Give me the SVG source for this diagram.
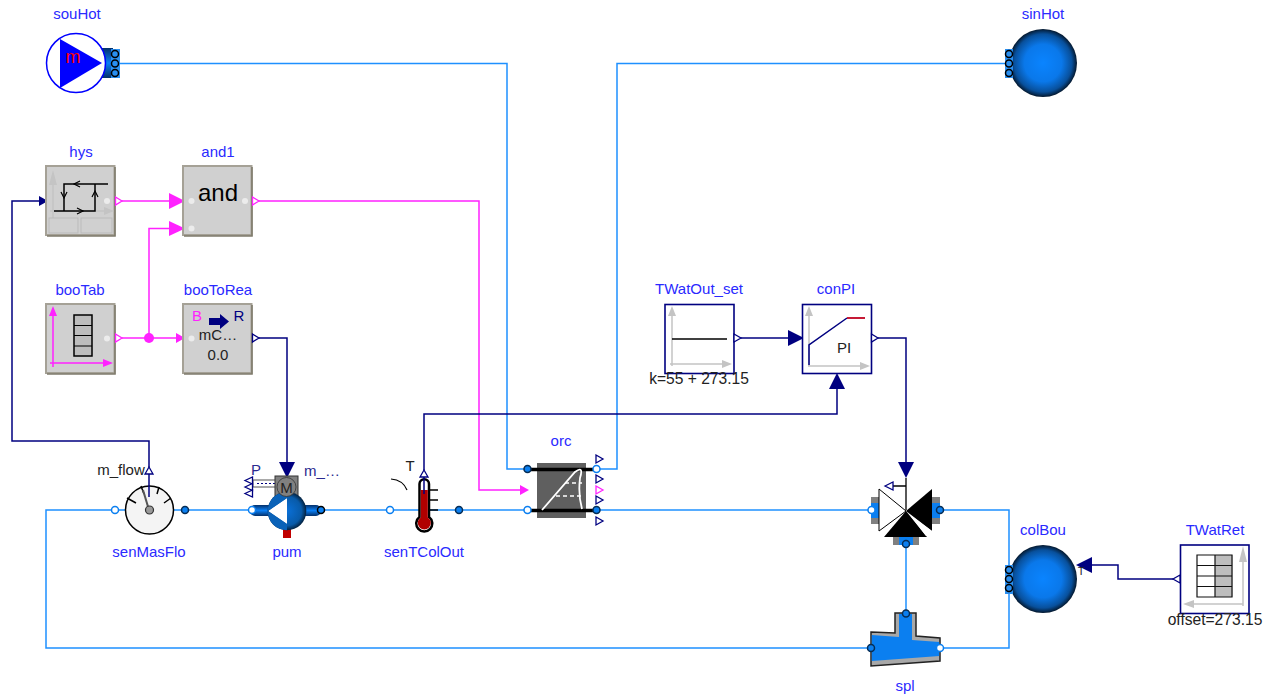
<svg xmlns="http://www.w3.org/2000/svg" width="1266" height="696" viewBox="0 0 1266 696">
<style>
text{font-family:"Liberation Sans",Arial,sans-serif;font-size:15px;text-anchor:middle;fill:#222}
.l{fill:#2a2aff}
.p{fill:none;stroke:#1e90ff;stroke-width:1.500}
.m{fill:none;stroke:#ff22ff;stroke-width:1.500}
.n{fill:none;stroke:#000080;stroke-width:1.500}
.mh{fill:#ff22ff;stroke:none}
.nh{fill:#000080;stroke:none}
.bk{fill:#d0d0d0;stroke:#a5a196;stroke-width:2}
.sh{fill:none;stroke:#7f7b6c;stroke-width:1.600}
.dot{fill:#ececec}
.bw{fill:#fff;stroke:#000080;stroke-width:1.600}
.ax{fill:none;stroke:#c4c4c4;stroke-width:1.500}
.axh{fill:#c4c4c4}
.pa{fill:#0b7ff0;stroke:#062d55;stroke-width:1.500}
.pb{fill:#fff;stroke:#0b7ff0;stroke-width:1.500}
.pc{fill:#2a8ff0;stroke:#000;stroke-width:1.500}
.oN{fill:#fff;stroke:#000080;stroke-width:1.300}
.oM{fill:#fff;stroke:#ff22ff;stroke-width:1.300}
.blk{fill:none;stroke:#000;stroke-width:1.500}
</style>
<defs>
<radialGradient id="sph" cx="50%" cy="50%" r="50%"><stop offset="0" stop-color="#0a84ff"/><stop offset=".55" stop-color="#0a78ea"/><stop offset=".85" stop-color="#08509c"/><stop offset="1" stop-color="#04182e"/></radialGradient>
<linearGradient id="pipeV" x1="0" y1="0" x2="0" y2="1"><stop offset="0" stop-color="#04306a"/><stop offset=".5" stop-color="#0a7ff5"/><stop offset="1" stop-color="#04306a"/></linearGradient>
<radialGradient id="pumpG" cx="50%" cy="50%" r="50%"><stop offset="0" stop-color="#0a70d8"/><stop offset=".75" stop-color="#085aa8"/><stop offset="1" stop-color="#03213f"/></radialGradient>
</defs>

<g id="connectors">
<path class="p" d="M115 63.500H507V469H527"/>
<path class="p" d="M1009 63.500H617V469H596"/>
<path class="p" d="M115 510H46V648H871"/>
<path class="p" d="M115 510H252"/>
<path class="p" d="M321 510H527"/>
<path class="p" d="M596 510H872"/>
<path class="p" d="M940 510H1009V648H940"/>
<path class="p" d="M906 544V613"/>
<path class="m" d="M122 201H170"/><polygon class="mh" points="169,193 185,201 169,209"/>
<path class="m" d="M149 338V228.500H170"/><polygon class="mh" points="169,221 185,228.500 169,236"/>
<path class="m" d="M122 338H178"/><polygon class="mh" points="176,333 185,338 176,343"/>
<circle class="mh" cx="149" cy="338" r="5"/>
<path class="m" d="M259 201H479V490H521"/><polygon class="mh" points="520,485 529,490 520,495"/>
<path class="n" d="M149 467V441H12V201H40"/><polygon class="nh" points="39,196 48,201 39,206"/>
<path class="n" d="M259 338H287V463"/><polygon class="nh" points="279,462 295,462 287,478"/>
<path class="n" d="M741 338H790"/><polygon class="nh" points="788,330 804,338 788,346"/>
<path class="n" d="M878 338H906V463"/><polygon class="nh" points="898,462 914,462 906,478"/>
<path class="n" d="M424 470V414H837V388"/><polygon class="nh" points="829,389 845,389 837,373"/>
<path class="n" d="M1173 579H1118V565H1091"/><polygon class="nh" points="1092,557 1092,573 1076,565"/>
</g>

<g id="souHot">
<text class="l" x="77" y="19">souHot</text>
<rect x="98" y="48" width="15" height="30" fill="url(#pipeV)"/>
<circle cx="76" cy="63" r="29.500" fill="#fff" stroke="#0000ff" stroke-width="1.500"/>
<polygon points="60,39 102,63 60,88" fill="#0000ff"/>
<text x="73" y="63" style="font-size:18px;fill:#ff0000">m</text>
<rect x="111" y="49" width="9" height="29" fill="#2a8ff0"/>
<circle class="pc" cx="115" cy="54" r="3.500"/><circle class="pc" cx="115" cy="63.500" r="3.500"/><circle class="pc" cx="115" cy="73" r="3.500"/>
</g>

<g id="sinHot">
<text class="l" x="1043" y="19">sinHot</text>
<circle cx="1043" cy="63" r="34" fill="url(#sph)"/>
<rect x="1005" y="49" width="8" height="29" fill="#2a8ff0"/>
<circle class="pc" cx="1009" cy="54" r="3.500"/><circle class="pc" cx="1009" cy="63.500" r="3.500"/><circle class="pc" cx="1009" cy="73" r="3.500"/>
</g>

<g id="hys">
<text class="l" x="81" y="157">hys</text>
<rect class="bk" x="46" y="166" width="68.500" height="69"/>
<path class="sh" d="M115 167V236H47"/>
<path class="ax" d="M53 218V175M50 211H112"/>
<polygon class="axh" points="49,185 53,170 57,185"/><polygon class="axh" points="104,207 114,211 104,215"/>
<rect x="49" y="218" width="29" height="15" fill="none" stroke="#bbb"/><rect x="81" y="218" width="31" height="15" fill="none" stroke="#bbb"/>
<path d="M108 184H64V211M54 211H95V184" fill="none" stroke="#000" stroke-width="1.500"/>
<path d="M80 181L74 184L80 187M61 192L64 198L67 192M77 208L83 211L77 214M92 197L95 191L98 197" fill="none" stroke="#000" stroke-width="1.200"/>
<circle class="dot" cx="107" cy="201" r="3"/>
<polygon class="oM" points="115.500,197 122,201 115.500,205"/>
</g>

<g id="and1">
<text class="l" x="218" y="157">and1</text>
<rect class="bk" x="183" y="166" width="68.500" height="69"/>
<path class="sh" d="M252 167V236H184"/>
<text x="218" y="201" style="font-size:24px;fill:#000">and</text>
<circle class="dot" cx="191.500" cy="201" r="3"/><circle class="dot" cx="191.500" cy="228.500" r="3"/><circle class="dot" cx="245" cy="201" r="3"/>
<polygon class="oM" points="252.500,197 259,201 252.500,205"/>
</g>

<g id="booTab">
<text class="l" x="80" y="295">booTab</text>
<rect class="bk" x="46" y="304" width="68.500" height="69"/>
<path class="sh" d="M115 305V374H47"/>
<path d="M53 367V310M50 363H110" fill="none" stroke="#ff22ff" stroke-width="1.500"/>
<polygon class="mh" points="49,316 53,306 57,316"/><polygon class="mh" points="103,359 113,363 103,367"/>
<rect x="74" y="315" width="18" height="41" fill="#bdbdbd" stroke="#000" stroke-width="1.500"/>
<path d="M74 325.500H92M74 335.500H92M74 346H92" stroke="#000" stroke-width="1.200"/>
<circle class="dot" cx="107" cy="338.500" r="3"/>
<polygon class="oM" points="115.500,334 122,338 115.500,342"/>
</g>

<g id="booToRea">
<text class="l" x="218" y="295">booToRea</text>
<rect class="bk" x="183" y="304" width="68.500" height="69"/>
<path class="sh" d="M252 305V374H184"/>
<text x="197" y="321" style="fill:#ff22ff">B</text>
<text x="239" y="321" style="fill:#000080">R</text>
<polygon class="nh" points="209,318 220,318 220,314 229,321.500 220,329 220,325 209,325"/>
<text x="218" y="340">mC…</text>
<text x="218" y="360">0.0</text>
<circle class="dot" cx="191.500" cy="338.500" r="3"/>
<polygon class="oN" points="252.500,334 259,338 252.500,342"/>
</g>

<g id="senMasFlo">
<text x="121" y="475">m_flow</text>
<text class="l" x="149" y="557">senMasFlo</text>
<circle cx="149.500" cy="510" r="24" fill="#f4f4f4" stroke="#000" stroke-width="1.500"/>
<path class="blk" d="M127 498L136 503M141 486L144 494M159 487L157 494M171 498L164 503"/>
<path d="M143 490L149 510" stroke="#555" stroke-width="2"/>
<circle cx="149.500" cy="510" r="4" fill="#999" stroke="#333" stroke-width="1.200"/>
<path class="n" d="M149 497V474"/>
<polygon class="oN" points="149,467 153,474 145,474"/>
<circle class="pb" cx="115" cy="510" r="3.500"/><circle class="pa" cx="185" cy="510" r="3.500"/>
</g>

<g id="pum">
<text class="l" x="287" y="557">pum</text>
<text x="256" y="475" style="fill:#2a2a90">P</text>
<text x="322" y="476" style="fill:#2a2a90">m_…</text>
<rect x="250" y="505" width="71" height="11" rx="5" fill="url(#pipeV)"/>
<rect x="283" y="528" width="8" height="10" fill="#c00000"/>
<rect x="253" y="480" width="23" height="7" fill="#fff" stroke="#555" stroke-width="1"/>
<path d="M257 483.500H275" stroke="#000080" stroke-width="1.200" stroke-dasharray="2 2"/>
<polygon class="oN" points="245,480.500 252.500,477 252.500,484"/><polygon class="oN" points="245,487 252.500,483.500 252.500,490.500"/><polygon class="oN" points="245,493.500 252.500,490 252.500,497"/>
<rect x="275" y="476" width="23" height="20" fill="#808080" stroke="#333" stroke-width="1"/>
<circle cx="287" cy="511" r="19.300" fill="url(#pumpG)"/>
<polygon points="287,498 268,511 287,524" fill="#fff"/>
<path d="M267.700 511A19.300 19.300 0 0 1 287 491.700V498L268 511L287 524V530.300A19.300 19.300 0 0 1 267.700 511Z" fill="#0a62b8"/>
<circle cx="286.500" cy="487" r="9.500" fill="#808080" stroke="#333" stroke-width=".8"/>
<text x="286.500" y="492.500" style="font-size:15px;fill:#222">M</text>
<circle class="pb" cx="252" cy="510" r="3.500"/><circle class="pa" cx="321" cy="510" r="3.500" style="stroke:#000"/>
</g>

<g id="senTColOut">
<text x="410" y="471">T</text>
<text class="l" x="424" y="557">senTColOut</text>
<path d="M391 479Q403 480 407 490" fill="none" stroke="#000" stroke-width="1.200"/>
<path d="M429 490H438M429 500H438M429 510H438" stroke="#000" stroke-width="1.300"/>
<path d="M419.500 484A4.750 4.750 0 0 1 429 484V517A8 8 0 1 1 419.500 517Z" fill="#fff" stroke="#000" stroke-width="2.500"/>
<rect x="420.800" y="490" width="7" height="30" fill="#b00000"/>
<circle cx="424.300" cy="523" r="6.500" fill="#b00000"/>
<path class="n" d="M424 477V494"/>
<polygon class="oN" points="424,470 428,477 420,477"/>
<circle class="pb" cx="390" cy="510" r="3.500"/><circle class="pa" cx="459" cy="510" r="3.500"/>
</g>

<g id="orc">
<text class="l" x="561" y="446">orc</text>
<rect x="537" y="463" width="49" height="55" fill="#5f5f5f"/>
<path d="M527 469.500H596M527 510.500H596" stroke="#000" stroke-width="3.500"/>
<path d="M542 510L575 472Q584 465 580 478Q578 495 582 509" fill="none" stroke="#fff" stroke-width="1.800"/>
<path d="M556 496H582M565 483H582" fill="none" stroke="#fff" stroke-width="1.500" stroke-dasharray="4 3"/>
<circle class="pa" cx="527.500" cy="469" r="3.500"/><circle class="pb" cx="527.500" cy="510" r="3.500"/>
<circle class="pb" cx="596.500" cy="469" r="3.500"/><circle class="pa" cx="596.500" cy="510" r="3.500"/>
<polygon class="oN" points="596,455 603,459 596,463"/>
<polygon class="oN" points="596,475 603,479 596,483"/>
<polygon class="oM" points="596,486 603,490 596,494"/>
<polygon class="oN" points="596,496 603,500 596,504"/>
<polygon class="oN" points="596,517 603,521 596,525"/>
</g>

<g id="TWatOut_set">
<text class="l" x="699" y="294">TWatOut_set</text>
<rect class="bw" x="665" y="304.500" width="69" height="69"/>
<path class="ax" d="M672 366V312M670 364H728"/>
<polygon class="axh" points="668,316 672,306 676,316"/><polygon class="axh" points="722,360 732,364 722,368"/>
<path d="M672 339H727" stroke="#000" stroke-width="1.500"/>
<polygon class="oN" points="734,334 741,338 734,342"/>
<text x="699" y="384" style="font-size:15.600px">k=55 + 273.15</text>
</g>

<g id="conPI">
<text class="l" x="836" y="294">conPI</text>
<rect class="bw" x="802.500" y="304.500" width="69" height="69"/>
<path class="ax" d="M809 366V312M808 366H866"/>
<polygon class="axh" points="805,316 809,306 813,316"/><polygon class="axh" points="860,362 870,366 860,370"/>
<path d="M809 365V345L847 318" fill="none" stroke="#000080" stroke-width="1.500"/>
<path d="M847 318H865" stroke="#c00020" stroke-width="1.800"/>
<text x="844" y="353">PI</text>
<polygon class="oN" points="871.500,334 878,338 871.500,342"/>
</g>

<g id="valve">
<path d="M906 478V510M906 486H892" stroke="#000" stroke-width="1.300" fill="none"/>
<polygon class="oN" points="885,486 893,482 893,490"/>
<rect x="871" y="497" width="8" height="27" fill="#808080"/>
<rect x="871" y="503" width="8" height="15" fill="#0b7ff0"/>
<rect x="932" y="497" width="8" height="27" fill="#808080"/>
<rect x="932" y="503" width="8" height="15" fill="#0b7ff0"/>
<rect x="893" y="537" width="26" height="8" fill="#808080"/>
<rect x="899" y="537" width="14" height="8" fill="#0b7ff0"/>
<polygon points="879,489 906,511 879,531" fill="#fff" stroke="#000" stroke-width="1"/>
<polygon points="932,489 932,531 906,511" fill="#000"/>
<polygon points="906,511 884,537 927,537" fill="#000"/>
<polygon points="909,514 926,536 932,531" fill="#fff"/>
<circle class="pb" cx="871.500" cy="510" r="3.500"/>
<circle class="pa" cx="940" cy="510" r="3.500"/>
<circle class="pa" cx="906" cy="544" r="3.500"/>
</g>

<g id="colBou">
<text class="l" x="1043" y="535">colBou</text>
<circle cx="1043" cy="579" r="34" fill="url(#sph)"/>
<rect x="1005" y="565" width="8" height="29" fill="#2a8ff0"/>
<circle class="pc" cx="1009" cy="570" r="3.500"/><circle class="pc" cx="1009" cy="579" r="3.500"/><circle class="pc" cx="1009" cy="588" r="3.500"/>
<text x="1081" y="575" style="font-size:11px">T</text>
</g>

<g id="TWatRet">
<text class="l" x="1215" y="535">TWatRet</text>
<rect class="bw" x="1180.500" y="545" width="68.500" height="68.500"/>
<path class="ax" d="M1243 606V552M1186 604H1243"/>
<polygon class="axh" points="1239,562 1243,546 1247,562"/><polygon class="axh" points="1194,600 1183,604 1194,608"/>
<rect x="1197" y="555" width="18" height="42" fill="#fff"/><rect x="1215" y="555" width="17.500" height="42" fill="#bdbdbd"/>
<path d="M1197 555H1232V597H1197ZM1215 555V597M1197 565.500H1232M1197 576H1232M1197 586.500H1232" fill="none" stroke="#111" stroke-width="1.200"/>
<polygon class="oN" points="1180,575 1180,583 1173,579"/>
<text x="1215" y="625" style="font-size:15.600px">offset=273.15</text>
</g>

<g id="spl">
<text class="l" x="905" y="691">spl</text>
<polygon points="871,632 895,633 895,613 916,613 916,636 940,638 940,661 871,666" fill="#a8a8a8" stroke="#222" stroke-width="1.500"/>
<polygon points="871.800,635 899,637 899,614 912,614 912,640 939.200,642 939.200,656 871.800,661" fill="#0b7ff0"/>
<circle class="pa" cx="871" cy="648" r="3.500"/>
<circle class="pa" cx="906" cy="613.500" r="3.500"/>
<circle class="pb" cx="940" cy="648" r="3.500"/>
</g>
</svg>
